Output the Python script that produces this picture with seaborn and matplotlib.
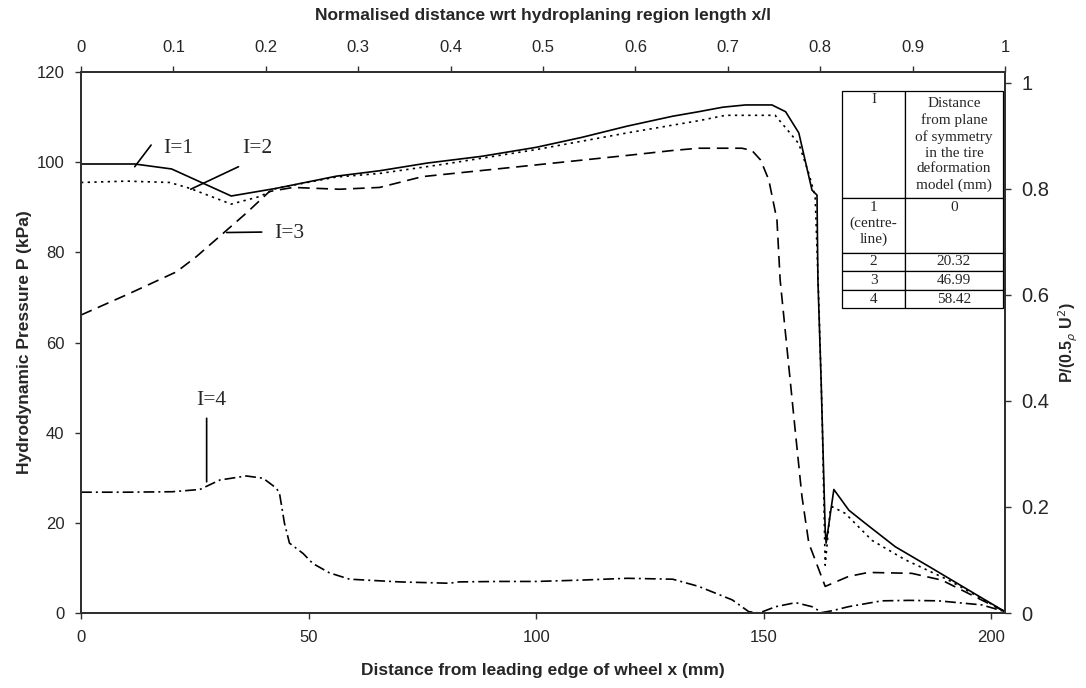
import numpy as np
import pandas as pd
import seaborn as sns
import matplotlib.pyplot as plt
from matplotlib.patches import Rectangle

# curves: x in mm, P in kPa
x_i1 = [0, 11.8, 19.9, 33.0, 42.9, 56.1, 65.6, 76, 88, 100, 110, 120, 130, 135.7, 141, 146, 151.8, 154.8,
        157.7, 160.6, 161.7, 161.9, 162.6, 163.5, 163.7, 165.4, 168.7, 172.3, 178.9, 187, 194.3, 203]
p_i1 = [99.6, 99.6, 98.5, 92.5, 94.2, 96.9, 98.1, 99.8, 101.3, 103.3, 105.5, 108, 110.2, 111.2, 112.2, 112.7,
        112.7, 111.2, 106.5, 93.8, 92.7, 73.9, 51.7, 18.4, 15.5, 27.4, 22.8, 19.9, 14.7, 9.9, 5.5, 0.3]

x_i2 = [0, 10, 19.5, 23.9, 33.0, 39.3, 42.9, 56, 65.6, 80, 100, 120, 135.7, 141.6, 152.5, 155.5, 157.7,
        159.9, 161.3, 162, 162.8, 163.5, 164.6, 165.0, 167.9, 173.8, 181.1, 190.6, 203]
p_i2 = [95.5, 95.8, 95.5, 94.2, 90.7, 92.4, 94.2, 96.7, 97.5, 99.6, 102.8, 106.5, 109.2, 110.4, 110.4, 106.8,
        104.1, 97.5, 92.4, 72, 45, 10.6, 22.8, 23.6, 22.1, 16.1, 11.8, 7.3, 0.3]

x_i3 = [0, 10.7, 21.0, 25.4, 31.2, 36.3, 41.4, 46.6, 56.8, 65.6, 75, 100, 120, 130, 135.7, 145.2, 147.4,
        149.3, 151.1, 152.9, 153.6, 155.8, 156.9, 158.4, 159.9, 163.5, 168.6, 173.0, 182.5, 189.1, 203]
p_i3 = [66.1, 70.9, 75.7, 79.1, 84.2, 88.7, 93.5, 94.4, 94.0, 94.4, 96.8, 99.4, 101.5, 102.6, 103.1, 103.1,
        102.6, 100.5, 96.1, 87.2, 73.9, 51.7, 40.6, 25.8, 15.5, 5.9, 8.1, 9.0, 8.8, 7.3, 0.3]

x_i4 = [0, 10, 20, 26.1, 30.5, 36.3, 40.0, 42.9, 43.6, 44.7, 45.8, 48.8, 50.9, 54.6, 59.0, 70.0, 80.9, 83.1,
        91.9, 100, 110, 120, 130, 135.7, 143.1, 146.7, 149, 152.6, 157.0, 160.6, 162.8, 165, 168.6, 175.9,
        182, 188.4, 197.9, 203]
p_i4 = [26.8, 26.8, 26.9, 27.4, 29.5, 30.4, 29.9, 27.7, 26.6, 19.9, 15.5, 13.2, 11.0, 8.9, 7.5, 6.9, 6.6, 6.9,
        7.0, 7.0, 7.3, 7.7, 7.5, 5.9, 2.9, 0.3, 0.0, 1.4, 2.3, 1.4, 0.1, 0.5, 1.4, 2.7, 2.8, 2.7, 1.8, 0.3]

region_length = 203.0   # mm, for the top axis x/l
p_dyn = 117.6           # kPa, 0.5 rho U^2 for the right axis

bottom_ticks = [0, 50, 100, 150, 200]
left_ticks = [0, 20, 40, 60, 80, 100, 120]
top_ticks = [0, 0.1, 0.2, 0.3, 0.4, 0.5, 0.6, 0.7, 0.8, 0.9, 1]
top_labels = ["0", "0.1", "0.2", "0.3", "0.4", "0.5", "0.6", "0.7", "0.8", "0.9", "1"]
right_ticks = [0, 0.2, 0.4, 0.6, 0.8, 1]
right_labels = ["0", "0.2", "0.4", "0.6", "0.8", "1"]

# curve labels: text, text position, leader line (x0, y0, x1, y1)
curve_tags = ["I=1", "I=2", "I=3", "I=4"]
tag_pos = [(18.0, 103.1), (35.5, 103.1), (42.5, 84.2), (28.5, 47.1)]
tag_ha = ["left", "left", "left", "center"]
tag_lines = [(15.4, 103.8, 11.8, 99.0), (34.6, 99.0, 24.1, 94.0),
             (39.7, 84.5, 32.0, 84.4), (27.6, 43.2, 27.6, 29.1)]

table_col1 = ["I", "1\n(centre-\nline)", "2", "3", "4"]
table_col2 = ["Distance\nfrom plane\nof symmetry\nin the tire\ndeformation\nmodel (mm)", "0", "20.32", "46.99", "58.42"]

df = pd.concat([
    pd.DataFrame({"x": x_i1, "P": p_i1, "I": "1"}),
    pd.DataFrame({"x": x_i2, "P": p_i2, "I": "2"}),
    pd.DataFrame({"x": x_i3, "P": p_i3, "I": "3"}),
    pd.DataFrame({"x": x_i4, "P": p_i4, "I": "4"}),
])
styles = {"1": "-", "2": (0, (1.4, 2.6)), "3": (0, (7, 4)), "4": (0, (6.5, 2.4, 1.2, 2.4))}

sns.set_style("ticks")
plt.rcParams["font.family"] = ["Liberation Sans", "DejaVu Sans"]
plt.rcParams["axes.edgecolor"] = "#303030"
plt.rcParams["axes.linewidth"] = 1.2

fig = plt.figure(figsize=(10.86, 6.88), dpi=100)
ax = fig.add_axes([0.0746, 0.109, 0.8508, 0.7863])

for key, grp in df.groupby("I"):
    sns.lineplot(data=grp, x="x", y="P", ax=ax, color="black", linestyle=styles[key],
                 lw=1.2, sort=False, estimator=None)

ax.set_xlim(0, region_length)
ax.set_ylim(0, 120)
ax.set_xticks(bottom_ticks)
ax.set_yticks(left_ticks)
ax.tick_params(labelsize=12, length=4, width=1, pad=8, color="#303030")
ax.set_xlabel("Distance from leading edge of wheel x (mm)", fontsize=12.5, fontweight="bold", labelpad=13)
ax.set_ylabel("Hydrodynamic Pressure P (kPa)", fontsize=12.5, fontweight="bold", labelpad=3)

ax_r = ax.twinx()
ax_r.set_ylim(0, 120 / p_dyn)
ax_r.set_yticks(right_ticks)
ax_r.set_yticklabels(right_labels)
ax_r.tick_params(labelsize=14.5, length=4, width=1, pad=8, color="#303030")
ax_r.set_ylabel(r"P/(0.5$_{\rho}$ U$^{2}$)", fontsize=11.5, fontweight="bold")
ax_r.yaxis.set_label_coords(1.056, 0.5)

ax_t = ax.twiny()
ax_t.set_xlim(0, 1)
ax_t.set_xticks(top_ticks)
ax_t.set_xticklabels(top_labels)
ax_t.tick_params(labelsize=12, length=4, width=1, pad=8, color="#303030")
ax_t.set_xlabel("Normalised distance wrt hydroplaning region length x/l", fontsize=12.5,
                fontweight="bold", labelpad=15)

for txt, (tx, ty), ha, (x0, y0, x1, y1) in zip(curve_tags, tag_pos, tag_ha, tag_lines):
    ax.annotate("", xy=(x1, y1), xytext=(x0, y0),
                arrowprops=dict(arrowstyle="-", color="black", lw=1.2, shrinkA=0, shrinkB=0))
    ax.text(tx, ty, txt, ha=ha, va="center", fontsize=15.5, family="Liberation Serif")

# table in the upper right corner (axes fractions)
col_edges = [0.8236, 0.8918, 0.9978]
row_edges = [0.9655, 0.7665, 0.6660, 0.6322, 0.5970, 0.5632]
for r in range(len(table_col1)):
    top, bot = row_edges[r], row_edges[r + 1]
    for c, col in enumerate([table_col1, table_col2]):
        left, right = col_edges[c], col_edges[c + 1]
        ax.add_patch(Rectangle((left, bot), right - left, top - bot, transform=ax.transAxes,
                               facecolor="white", edgecolor="black", lw=0.9, zorder=5))
        cx = (left + right) / 2
        if r == 0 and c == 1:
            ax.text(cx, (top + bot) / 2, col[r], transform=ax.transAxes, ha="center", va="center",
                    fontsize=11, family="Liberation Serif", linespacing=1.28, zorder=6)
        elif r <= 1:
            ax.text(cx, top - 0.004, col[r], transform=ax.transAxes, ha="center", va="top",
                    fontsize=11, family="Liberation Serif", linespacing=1.28, zorder=6)
        else:
            ax.text(cx, (top + bot) / 2, col[r], transform=ax.transAxes, ha="center", va="center",
                    fontsize=11, family="Liberation Serif", zorder=6)

plt.savefig("out.png", dpi=100)
